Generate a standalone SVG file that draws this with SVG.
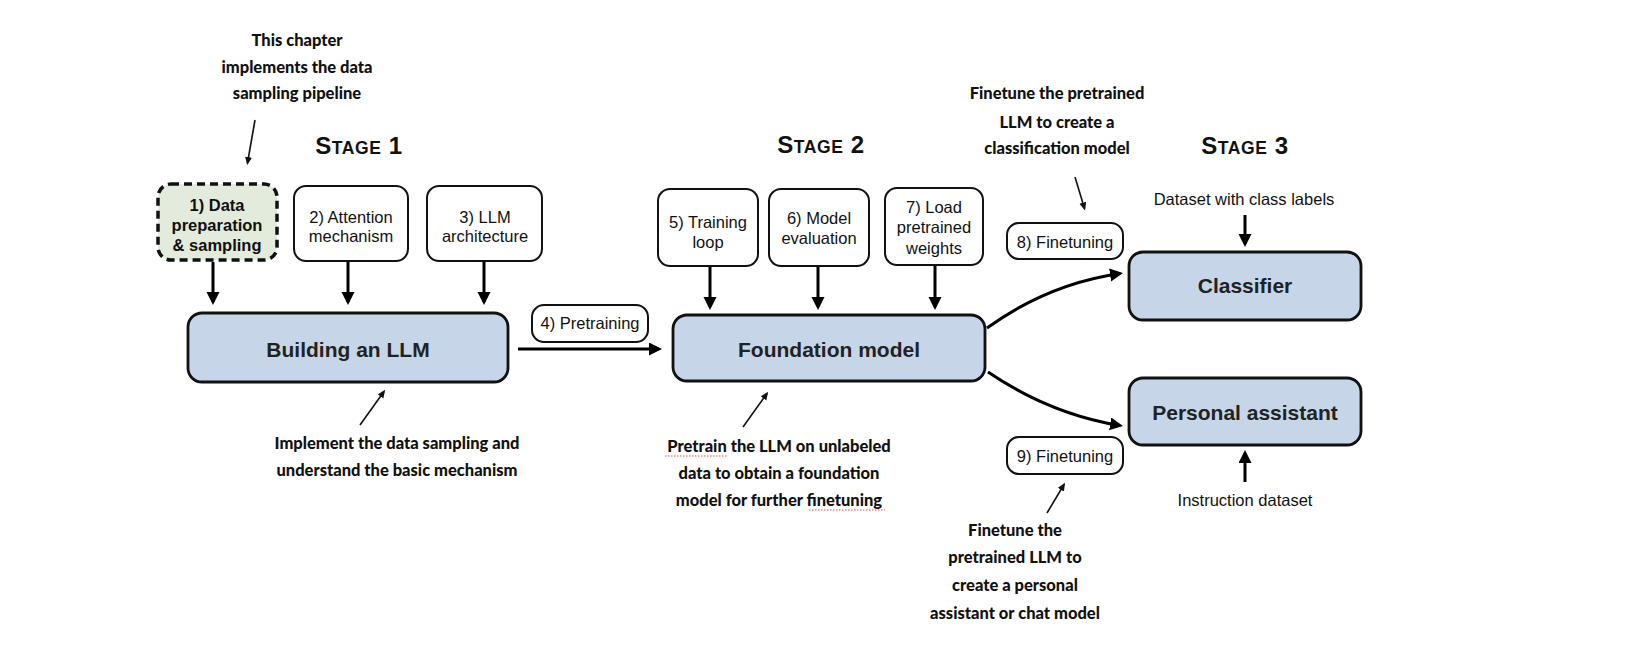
<svg xmlns="http://www.w3.org/2000/svg" width="1640" height="649" viewBox="0 0 1640 649">
<defs>
<style>
.note{font-family:"Lato","Liberation Sans",sans-serif;font-weight:900;font-size:16.5px;fill:#111;text-anchor:middle}
.lbl{font-family:"Liberation Sans",Arial,sans-serif;font-size:16.5px;fill:#111;text-anchor:middle}
.big{font-family:"Liberation Sans",Arial,sans-serif;font-weight:700;font-size:21px;fill:#222;text-anchor:middle}
.stage{font-family:"Liberation Sans",Arial,sans-serif;font-weight:700;fill:#111;text-anchor:middle;letter-spacing:0.6px}
.main{fill:#c6d6e8;stroke:#111;stroke-width:2.8}
.small{fill:#fff;stroke:#111;stroke-width:2}
.thick{fill:none;stroke:#000;stroke-width:3;marker-end:url(#hb)}
.thin{fill:none;stroke:#111;stroke-width:1.6;marker-end:url(#hs)}
.squig{fill:none;stroke:#e05050;stroke-width:1;stroke-dasharray:1.5 1.5}
</style>
<marker id="hb" markerUnits="userSpaceOnUse" markerWidth="14" markerHeight="14" refX="10" refY="6.5" orient="auto">
<path d="M0,0 L13,6.5 L0,13 z" fill="#000"/>
</marker>
<marker id="hs" markerUnits="userSpaceOnUse" markerWidth="10" markerHeight="10" refX="6" refY="3.5" orient="auto">
<path d="M0,0 L8,3.5 L0,7 z" fill="#111"/>
</marker>
</defs>
<rect width="1640" height="649" fill="#fff"/>

<!-- stage titles -->
<text class="stage" x="359" y="154"><tspan font-size="24">S</tspan><tspan font-size="17.5">TAGE</tspan><tspan font-size="24"> 1</tspan></text>
<text class="stage" x="821" y="153"><tspan font-size="24">S</tspan><tspan font-size="17.5">TAGE</tspan><tspan font-size="24"> 2</tspan></text>
<text class="stage" x="1245" y="154"><tspan font-size="24">S</tspan><tspan font-size="17.5">TAGE</tspan><tspan font-size="24"> 3</tspan></text>

<!-- annotations -->
<g id="note-chapter">
<text class="note" x="297" y="46">This chapter</text>
<text class="note" x="297" y="73">implements the data</text>
<text class="note" x="297" y="99">sampling pipeline</text>
</g>
<g id="note-implement">
<text class="note" x="397" y="449">Implement the data sampling and</text>
<text class="note" x="397" y="476">understand the basic mechanism</text>
</g>
<g id="note-pretrain">
<text class="note" x="779" y="452">Pretrain the LLM on unlabeled</text>
<text class="note" x="779" y="479">data to obtain a foundation</text>
<text class="note" x="779" y="506">model for further finetuning</text>
<path class="squig" d="M665,456 L727,456"/>
<path class="squig" d="M809,510 L885,510"/>
</g>
<g id="note-classify">
<text class="note" x="1057" y="99">Finetune the pretrained</text>
<text class="note" x="1057" y="128">LLM to create a</text>
<text class="note" x="1057" y="154">classification model</text>
</g>
<g id="note-assistant">
<text class="note" x="1015" y="536">Finetune the</text>
<text class="note" x="1015" y="563">pretrained LLM to</text>
<text class="note" x="1015" y="591">create a personal</text>
<text class="note" x="1015" y="619">assistant or chat model</text>
</g>

<!-- stage 1 nodes -->
<g id="n1">
<rect x="158" y="184" width="119" height="76" rx="13" fill="#e3ebdd" stroke="#111" stroke-width="3.5" stroke-dasharray="8 5"/>
<text class="lbl" font-weight="700" x="217" y="211">1) Data</text>
<text class="lbl" font-weight="700" x="217" y="231">preparation</text>
<text class="lbl" font-weight="700" x="217" y="251">&amp; sampling</text>
</g>
<g id="n2">
<rect class="small" x="294" y="186" width="114" height="75" rx="12"/>
<text class="lbl" x="351" y="223">2) Attention</text>
<text class="lbl" x="351" y="242">mechanism</text>
</g>
<g id="n3">
<rect class="small" x="427" y="186" width="115" height="75" rx="12"/>
<text class="lbl" x="485" y="223">3) LLM</text>
<text class="lbl" x="485" y="242">architecture</text>
</g>
<g id="building">
<rect class="main" x="188" y="313" width="320" height="69" rx="14"/>
<text class="big" x="348" y="357">Building an LLM</text>
</g>
<g id="n4">
<rect class="small" x="532" y="305" width="116" height="37" rx="12"/>
<text class="lbl" x="590" y="329">4) Pretraining</text>
</g>

<!-- stage 2 nodes -->
<g id="n5">
<rect class="small" x="658" y="189" width="100" height="77" rx="12"/>
<text class="lbl" x="708" y="228">5) Training</text>
<text class="lbl" x="708" y="248">loop</text>
</g>
<g id="n6">
<rect class="small" x="769" y="189" width="100" height="77" rx="12"/>
<text class="lbl" x="819" y="224">6) Model</text>
<text class="lbl" x="819" y="244">evaluation</text>
</g>
<g id="n7">
<rect class="small" x="885" y="188" width="98" height="77" rx="12"/>
<text class="lbl" x="934" y="213">7) Load</text>
<text class="lbl" x="934" y="233">pretrained</text>
<text class="lbl" x="934" y="254">weights</text>
</g>
<g id="foundation">
<rect class="main" x="673" y="315" width="312" height="66" rx="14"/>
<text class="big" x="829" y="357">Foundation model</text>
</g>

<!-- stage 3 nodes -->
<g id="n8">
<rect class="small" x="1007" y="223" width="116" height="36" rx="12"/>
<text class="lbl" x="1065" y="248">8) Finetuning</text>
</g>
<g id="n9">
<rect class="small" x="1007" y="437" width="116" height="37" rx="12"/>
<text class="lbl" x="1065" y="462">9) Finetuning</text>
</g>
<g id="classifier">
<rect class="main" x="1129" y="252" width="232" height="68" rx="14"/>
<text class="big" x="1245" y="293">Classifier</text>
</g>
<g id="assistant">
<rect class="main" x="1129" y="378" width="232" height="67" rx="14"/>
<text class="big" x="1245" y="420">Personal assistant</text>
</g>
<g id="dataset-labels">
<text class="lbl" font-size="16" x="1244" y="205">Dataset with class labels</text>
</g>
<g id="dataset-instr">
<text class="lbl" font-size="16" x="1245" y="506">Instruction dataset</text>
</g>

<!-- connectors -->
<g id="connectors">
<path class="thick" d="M213,262 L213,302"/>
<path class="thick" d="M348,262 L348,302"/>
<path class="thick" d="M484,262 L484,302"/>
<path class="thick" d="M710,267 L710,307"/>
<path class="thick" d="M818,267 L818,307"/>
<path class="thick" d="M935,266 L935,307"/>
<path class="thick" d="M518,349 L659,349"/>
<path class="thick" d="M987,328 Q1048,284 1120,273.5"/>
<path class="thick" d="M988,372 Q1050,414 1120,425.5"/>
<path class="thick" d="M1245,215 L1245,244"/>
<path class="thick" d="M1245,482 L1245,453"/>
<path class="thin" d="M255,120 L247.5,163"/>
<path class="thin" d="M360,425 L384,391.5"/>
<path class="thin" d="M743,427 L767,393.5"/>
<path class="thin" d="M1075,177 L1084.5,208.5"/>
<path class="thin" d="M1047,513 L1064,484.5"/>
</g>
</svg>
